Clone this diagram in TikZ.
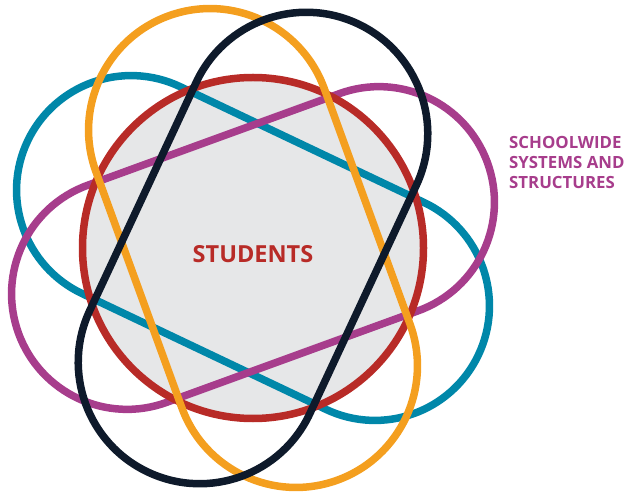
\documentclass[tikz,border=0pt]{standalone}
\usepackage{fontspec}
\setmainfont{Open Sans}
\usetikzlibrary{shapes.misc}
\definecolor{orangeC}{HTML}{F49F1F}
\definecolor{navyC}{HTML}{0E1A2B}
\definecolor{tealC}{HTML}{0087A9}
\definecolor{magentaC}{HTML}{A73D8C}
\definecolor{redC}{HTML}{B82B27}
\definecolor{greyC}{HTML}{E6E7E8}

\begin{document}
\begin{tikzpicture}[x=1pt, y=1pt,
			ring/.style={draw, rounded rectangle, line width=7.5pt, inner sep=0pt},
			hub/.style={circle, inner sep=0pt, minimum size=341pt},
			maintext/.style={font=\bfseries\fontsize{23.5}{23.5}\selectfont, text=redC},
			sidetext/.style={font=\bfseries\fontsize{16.8}{20}\selectfont, text=magentaC, align=left, inner sep=0pt}
			]
			\useasboundingbox (0,0) rectangle (628,495);
			% Students
			\node[hub, fill=greyC] (students) at (253,247) {};
			
			% Rings
			\node[ring, tealC, minimum width=499pt, minimum height=229pt, rotate=-25.4] (teal) at (students.center) {};
			\node[ring, magentaC, minimum width=499pt, minimum height=231pt, rotate=20] (magenta) at (students.center) {};
			\node[hub, draw=redC, line width=7.5pt] (rim) at (students.center) {};
			\node[ring, orangeC, minimum width=494pt, minimum height=243pt, rotate=110] (orange) at (students.center) {};
			\node[ring, navyC, minimum width=495pt, minimum height=243pt, rotate=65] (navy) at (students.center) {};
			
			% Labels
			\node[maintext] (studentslabel) at (253,240.5) {STUDENTS};
			\node[sidetext, anchor=north west] (systems) at (509,359) {SCHOOLWIDE\\SYSTEMS AND\\STRUCTURES};
		\end{tikzpicture}
\end{document}
